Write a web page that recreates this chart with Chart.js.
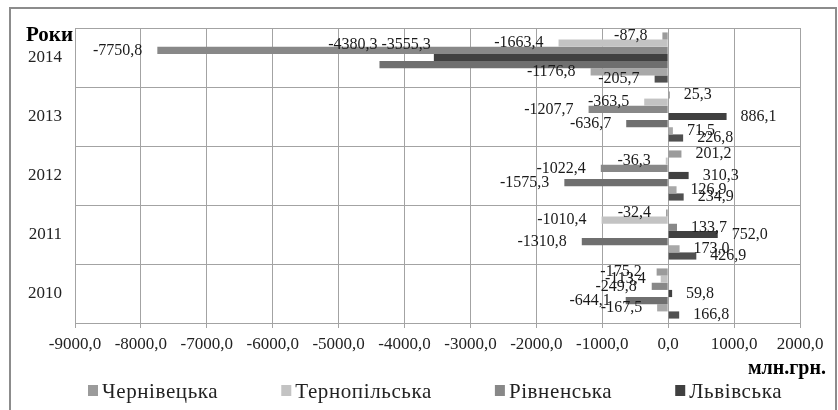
<!DOCTYPE html>
<html>
<head>
<meta charset="utf-8">
<title>Сальдо по областях</title>
<script src="https://cdn.jsdelivr.net/npm/chart.js@4.4.1/dist/chart.umd.min.js"></script>
<style>
  html, body { margin: 0; padding: 0; background: #fff; }
</style>
</head>
<body>
<canvas id="myChart" width="838" height="410"></canvas>
<script>
'use strict'
// years go top -> bottom like in the picture
let years = ['2014', '2013', '2012', '2011', '2010'];
// order of regions = order of bars inside one year (top bar first)
let regionNames = ['Чернівецька', 'Тернопільська', 'Рівненська', 'Львівська', 'Івано-Франківська', 'Закарпатська', 'Волинська'];
let chernivetska = [-87.8, 25.3, 201.2, -32.4, -175.2];
let ternopilska = [-1663.4, -363.5, -36.3, -1010.4, -113.4];
let rivnenska = [-7750.8, -1207.7, -1022.4, 133.7, -249.8];
let lvivska = [-3555.3, 886.1, 310.3, 752.0, 59.8];
let ivanoFrankivska = [-4380.3, -636.7, -1575.3, -1310.8, -644.1];
let zakarpatska = [-1176.8, 71.5, 126.9, 173.0, -167.5];
let volynska = [-205.7, 226.8, 234.9, 426.9, 166.8];
let regionValues = [chernivetska, ternopilska, rivnenska, lvivska, ivanoFrankivska, zakarpatska, volynska];
// x axis ticks
let xMin = -9000;
let xMax = 2000;
let xStep = 1000;

let colors = ['#9b9b9b', '#c3c3c3', '#888888', '#404040', '#6f6f6f', '#a8a8a8', '#505050'];
let serif = "'Liberation Serif', 'Times New Roman', serif";
let gridColor = '#a3a3a3';
// two labels in 2014 were moved by hand in the original: [gap from bar end, shift up/down]
let labelNudge = { '3,0': [3, -13], '4,0': [2, -20] };

function fmt(v) {
    return v.toFixed(1).replace('.', ',');
}

let extraDraw = {
    id: 'extraDraw',
    beforeDraw(chart) {
        let ctx = chart.ctx;
        ctx.save();
        ctx.fillStyle = '#fff';
        ctx.fillRect(0, 0, chart.width, chart.height);
        // outer frame
        ctx.strokeStyle = '#8c8c8c';
        ctx.lineWidth = 2;
        ctx.strokeRect(10, 8, 826, 410);
        ctx.restore();
    },
    afterDatasetsDraw(chart) {
        let ctx = chart.ctx;
        ctx.save();
        // value labels at the end of every bar
        ctx.font = '16px ' + serif;
        ctx.fillStyle = '#1a1a1a';
        ctx.textBaseline = 'middle';
        chart.data.datasets.forEach(function (ds, i) {
            chart.getDatasetMeta(i).data.forEach(function (bar, j) {
                let v = ds.data[j];
                let nudge = labelNudge[i + ',' + j] || [15, 0];
                if (v < 0) {
                    ctx.textAlign = 'right';
                    ctx.fillText(fmt(v), bar.x - nudge[0], bar.y + nudge[1]);
                } else {
                    ctx.textAlign = 'left';
                    ctx.fillText(fmt(v), bar.x + nudge[0] - 1, bar.y + nudge[1]);
                }
            });
        });
        // axis titles
        ctx.fillStyle = '#000';
        ctx.textBaseline = 'alphabetic';
        ctx.textAlign = 'left';
        ctx.font = 'bold 21px ' + serif;
        ctx.fillText('Роки', 26, 41);
        ctx.textAlign = 'right';
        ctx.font = 'bold 20px ' + serif;
        ctx.fillText('млн.грн.', 826, 374);
        // legend, only first four are visible in the picture
        ctx.font = '21px ' + serif;
        ctx.letterSpacing = '0.6px';
        ctx.textAlign = 'left';
        let lx = 88;
        for (let k = 0; k < 4; k++) {
            ctx.fillStyle = colors[k];
            ctx.fillRect(lx, 385, 10, 11);
            ctx.fillStyle = '#222';
            ctx.fillText(regionNames[k], lx + 14, 398);
            lx += 14 + ctx.measureText(regionNames[k]).width + 63;
        }
        ctx.restore();
    }
};

let datasets = [];
for (let i = 0; i < regionNames.length; i++) {
    datasets.push({
        label: regionNames[i],
        data: regionValues[i],
        backgroundColor: colors[i],
        borderWidth: 0,
        categoryPercentage: 0.85,
        barPercentage: 1
    });
}

let ctx = document.getElementById('myChart').getContext('2d');
let myChart = new Chart(ctx, {
    type: 'bar',
    data: {
        labels: years,
        datasets: datasets
    },
    options: {
        indexAxis: 'y',
        responsive: false,
        animation: false,
        layout: { padding: { top: 28, right: 38, left: 0, bottom: 0 } },
        plugins: {
            legend: { display: false },
            tooltip: { enabled: false }
        },
        scales: {
            x: {
                min: xMin,
                max: xMax,
                ticks: {
                    stepSize: xStep,
                    autoSkip: false,
                    maxRotation: 0,
                    padding: 6,
                    color: '#222',
                    font: { family: serif, size: 17 },
                    callback: function (v) { return fmt(v); }
                },
                grid: { color: gridColor, tickLength: 5 },
                border: { color: gridColor },
                afterFit: function (scale) { scale.height = 87; }
            },
            y: {
                ticks: {
                    padding: 13,
                    color: '#222',
                    font: { family: serif, size: 17 }
                },
                grid: { color: gridColor, drawTicks: false, offset: true },
                border: { color: gridColor },
                afterFit: function (scale) { scale.width = 75; }
            }
        }
    },
    plugins: [extraDraw]
});
</script>
</body>
</html>
